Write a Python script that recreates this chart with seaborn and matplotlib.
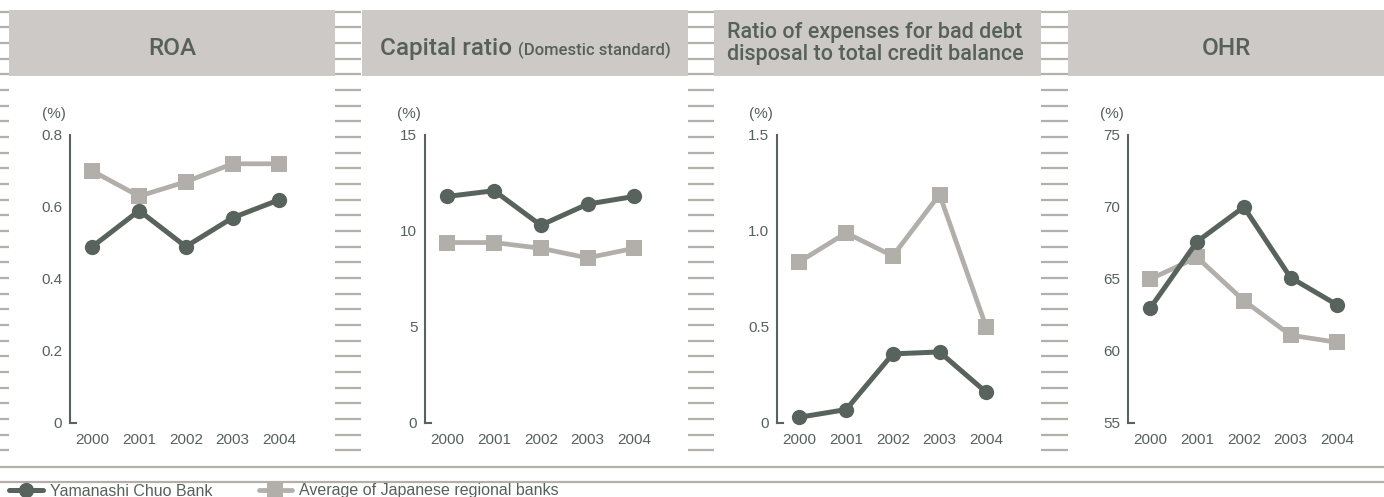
import matplotlib
matplotlib.use("Agg")
import matplotlib.pyplot as plt
from matplotlib import font_manager
from matplotlib.patches import Rectangle
import seaborn as sns

# data
years = ["2000", "2001", "2002", "2003", "2004"]
x_idx = [0, 1, 2, 3, 4]

roa_bank = [0.49, 0.59, 0.49, 0.57, 0.62]
roa_avg = [0.70, 0.63, 0.67, 0.72, 0.72]
roa_ticks = [0, 0.2, 0.4, 0.6, 0.8]
roa_labels = ["0", "0.2", "0.4", "0.6", "0.8"]

cap_bank = [11.8, 12.1, 10.3, 11.4, 11.8]
cap_avg = [9.4, 9.4, 9.1, 8.6, 9.1]
cap_ticks = [0, 5, 10, 15]
cap_labels = ["0", "5", "10", "15"]

bad_bank = [0.03, 0.07, 0.36, 0.37, 0.16]
bad_avg = [0.84, 0.99, 0.87, 1.19, 0.50]
bad_ticks = [0, 0.5, 1.0, 1.5]
bad_labels = ["0", "0.5", "1.0", "1.5"]

ohr_bank = [63.0, 67.6, 70.0, 65.1, 63.2]
ohr_avg = [65.0, 66.5, 63.5, 61.1, 60.6]
ohr_ticks = [55, 60, 65, 70, 75]
ohr_labels = ["55", "60", "65", "70", "75"]

bank_name = "Yamanashi Chuo Bank"
avg_name = "Average of Japanese regional banks"

DARK = "#58635e"
LIGHT = "#b2aeaa"
BAND = "#cdc9c6"
LADDER = "#b3afab"
TEXT = "#56615c"

sns.set_style("white")
installed = {f.name for f in font_manager.fontManager.ttflist}
regular = "Liberation Sans" if "Liberation Sans" in installed else "DejaVu Sans"
head = "Roboto" if "Roboto" in installed else regular
plt.rcParams["font.family"] = [regular, "DejaVu Sans"]

W, H = 1384, 497
fig = plt.figure(figsize=(W / 100, H / 100), dpi=100)

# background decoration in pixel coordinates
bg = fig.add_axes([0, 0, 1, 1], zorder=-1)
bg.set_xlim(0, W)
bg.set_ylim(H, 0)
bg.axis("off")

bands = [(9, 335), (362, 688), (714, 1041), (1068, 1384)]
for x0, x1 in bands:
    bg.add_patch(Rectangle((x0, 10), x1 - x0, 66, color=BAND, lw=0))

ladders = [(0, 9), (335, 361), (688, 714), (1041, 1068)]
ladder_y = [11.7 + k * 15.67 for k in range(29)]
for x0, x1 in ladders:
    bg.hlines(ladder_y, x0, x1, color=LADDER, lw=1.6)

bg.hlines([467, 482], 0, W, color=LADDER, lw=1.6)

# headers
hkw = dict(color=TEXT, family=[head, regular], weight="medium", va="baseline")
bg.text(172, 55, "ROA", fontsize=17.5, ha="center", **hkw)
bg.text(1226, 55, "OHR", fontsize=17.5, ha="center", **hkw)
bg.text(875, 38, "Ratio of expenses for bad debt", fontsize=15.5, ha="center", **hkw)
bg.text(875, 60, "disposal to total credit balance", fontsize=15.5, ha="center", **hkw)

t1 = bg.text(0, 55, "Capital ratio", fontsize=17.5, ha="left", **hkw)
t2 = bg.text(0, 55, "(Domestic standard)", fontsize=12, ha="left", **hkw)
fig.canvas.draw()
r = fig.canvas.get_renderer()
w1 = t1.get_window_extent(r).width
w2 = t2.get_window_extent(r).width
start = 525 - (w1 + 6 + w2) / 2
t1.set_x(start)
t2.set_x(start + w1 + 6)

# chart panels
panels = [
    (70, roa_bank, roa_avg, roa_ticks, roa_labels),
    (425, cap_bank, cap_avg, cap_ticks, cap_labels),
    (777, bad_bank, bad_avg, bad_ticks, bad_labels),
    (1128, ohr_bank, ohr_avg, ohr_ticks, ohr_labels),
]
ax_top, ax_bot = 135, 423
x_lo, x_hi = -0.48, 4.5
step = 46.7
handles = None
for left, bank, avg, ticks, labels in panels:
    width = (x_hi - x_lo) * step
    ax = fig.add_axes([left / W, (H - ax_bot) / H, width / W, (ax_bot - ax_top) / H])
    ax.patch.set_alpha(0)
    sns.lineplot(x=x_idx, y=avg, ax=ax, color=LIGHT, lw=3.4, marker="s", ms=12,
                 mew=0, label=avg_name, clip_on=False)
    sns.lineplot(x=x_idx, y=bank, ax=ax, color=DARK, lw=3.6, marker="o", ms=11,
                 mew=0, label=bank_name, clip_on=False)
    handles = ax.get_legend_handles_labels()
    ax.get_legend().remove()

    ax.set_xlim(x_lo, x_hi)
    ax.set_ylim(ticks[0], ticks[-1])
    ax.set_yticks(ticks)
    ax.set_yticklabels(labels)
    ax.set_xticks(x_idx)
    ax.set_xticklabels(years)
    ax.set_xlabel("")
    ax.set_ylabel("")
    for s in ["top", "right"]:
        ax.spines[s].set_visible(False)
    ax.spines["left"].set_color(DARK)
    ax.spines["left"].set_linewidth(1.5)
    ax.spines["bottom"].set_color(DARK)
    ax.spines["bottom"].set_linewidth(1.5)
    ax.spines["bottom"].set_bounds(x_lo, x_lo + 0.12)
    ax.tick_params(axis="y", direction="out", length=2.5, width=1.5, color=DARK,
                   labelcolor=TEXT, labelsize=11, pad=3)
    ax.tick_params(axis="x", length=0, labelcolor=TEXT, labelsize=11, pad=7)
    ax.yaxis.get_major_ticks()[0].tick1line.set_visible(False)
    ax.annotate("(%)", xy=(0, 1), xycoords="axes fraction", xytext=(-3, 15),
                textcoords="offset points", ha="right", va="center",
                color=TEXT, fontsize=11)

# legend along the bottom edge
h, l = handles
order = [1, 0]
fig.legend([h[i] for i in order], [l[i] for i in order], loc="center left",
           bbox_to_anchor=(9 / W, (H - 491) / H), ncol=2, frameon=False,
           fontsize=11.5, handlelength=2.1, handletextpad=0.45, columnspacing=2.9,
           borderpad=0, borderaxespad=0, labelcolor=TEXT)

fig.savefig("out.png", dpi=100)
